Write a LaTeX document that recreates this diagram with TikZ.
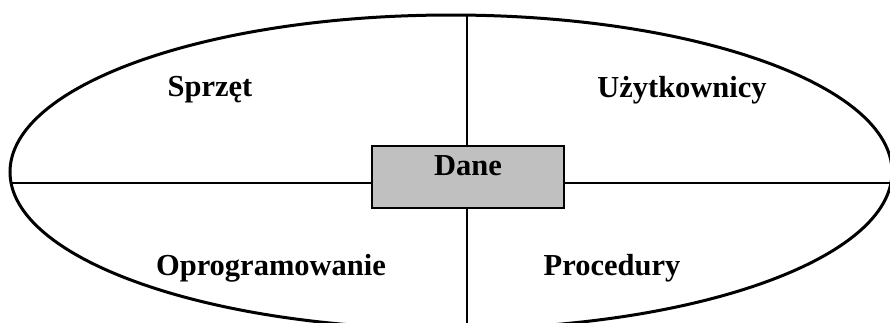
\documentclass[tikz,border=0pt]{standalone}
\usepackage{fontspec}
\setmainfont{Liberation Serif}
\usetikzlibrary{shapes.geometric}
\begin{document}
\begin{tikzpicture}[x=1pt,y=-1pt,
  lbl/.style={font=\fontsize{30.5}{34}\selectfont\bfseries, inner sep=0pt},
  divider/.style={line width=2pt},
  databox/.style={draw, line width=2pt, fill={rgb,255:red,192;green,192;blue,192},
    minimum width=192, minimum height=62, inner sep=0pt}]
  \useasboundingbox (0,0) rectangle (890,322);
  \clip (0,0) rectangle (890,322);
  % outer system boundary
  \node[ellipse, draw, line width=3pt, minimum width=882, minimum height=314, inner sep=0pt] (sys) at (451,172) {};
  % quadrant dividers
  \coordinate (vtop) at (467,15);
  \coordinate (vbot) at (467,335);
  \coordinate (hleft) at (10,183);
  \coordinate (hright) at (900,183);
  \draw[divider] (vtop) -- (vbot);
  \draw[divider] (hleft) -- (hright);
  % central component
  \node[databox] (dane) at (468,177) {};
  \node[lbl] (danetxt) at (468,166) {Dane};
  % quadrant labels
  \node[lbl] (sprzet) at (210,90) {Sprzęt};
  \node[lbl] (uzytk) at (682,90) {Użytkownicy};
  \node[lbl] (oprog) at (271,268) {Oprogramowanie};
  \node[lbl] (proc) at (612,268) {Procedury};
\end{tikzpicture}
\end{document}
